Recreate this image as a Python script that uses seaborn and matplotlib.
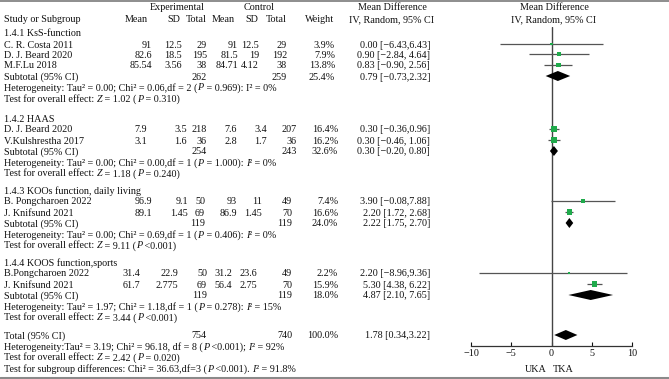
import matplotlib
matplotlib.use("Agg")
import matplotlib.pyplot as plt
import seaborn as sns
import pandas as pd

# ---- values ----
subgroups = ["1.4.1 KsS-function", "1.4.2 HAAS",
             "1.4.3 KOOs function, daily living", "1.4.4 KOOS function,sports"]

study = ["C. R. Costa 2011", "D. J. Beard 2020", "M.F.Lu 2018",
         "D. J. Beard 2020", "V.Kulshrestha 2017",
         "B. Pongcharoen 2022", "J. Knifsund 2021",
         "B.Pongcharoen 2022", "J. Knifsund 2021"]
study_group = [0, 0, 0, 1, 1, 2, 2, 3, 3]
exp_mean = ["91", "82.6", "85.54", "7.9", "3.1", "96.9", "89.1", "31.4", "61.7"]
exp_sd = ["12.5", "18.5", "3.56", "3.5", "1.6", "9.1", "1.45", "22.9", "2.775"]
exp_n = [29, 195, 38, 218, 36, 50, 69, 50, 69]
ctl_mean = ["91", "81.5", "84.71", "7.6", "2.8", "93", "86.9", "31.2", "56.4"]
ctl_sd = ["12.5", "19", "4.12", "3.4", "1.7", "11", "1.45", "23.6", "2.75"]
ctl_n = [29, 192, 38, 207, 36, 49, 70, 49, 70]
weight = [3.9, 7.9, 13.8, 16.4, 16.2, 7.4, 16.6, 2.2, 15.9]
md = [0.00, 0.90, 0.83, 0.30, 0.30, 3.90, 2.20, 2.20, 5.30]
ci_lo = [-6.43, -2.84, -0.90, -0.36, -0.46, -0.08, 1.72, -8.96, 4.38]
ci_hi = [6.43, 4.64, 2.56, 0.96, 1.06, 7.88, 2.68, 9.36, 6.22]

sub_exp_n = [262, 254, 119, 119]
sub_ctl_n = [259, 243, 119, 119]
sub_weight = [25.4, 32.6, 24.0, 18.0]
sub_md = [0.79, 0.30, 2.22, 4.87]
sub_lo = [-0.73, -0.20, 1.75, 2.10]
sub_hi = [2.32, 0.80, 2.70, 7.65]
# *X* marks an italic letter
sub_het = [
    "Heterogeneity: Tau² = 0.00; Chi² = 0.06,df = 2 (*P* = 0.969): I² = 0%",
    "Heterogeneity: Tau² = 0.00; Chi² = 0.00,df = 1 (*P* = 1.000): *I*² = 0%",
    "Heterogeneity: Tau² = 0.00; Chi² = 0.69,df = 1 (*P* = 0.406): *I*² = 0%",
    "Heterogeneity: Tau² = 1.97; Chi² = 1.18,df = 1 (*P* = 0.278): *I*² = 15%",
]
sub_test = [
    "Test for overall effect: *Z* = 1.02 (*P* = 0.310)",
    "Test for overall effect: *Z* = 1.18 (*P* = 0.240)",
    "Test for overall effect: *Z* = 9.11 (*P* <0.001)",
    "Test for overall effect: *Z* = 3.44 (*P* <0.001)",
]

total_exp_n, total_ctl_n, total_weight = 754, 740, 100.0
total_md, total_lo, total_hi = 1.78, 0.34, 3.22
total_notes = [
    "Heterogeneity:Tau² = 3.19; Chi² = 96.18, df = 8 (*P* <0.001); *I*² = 92%",
    "Test for overall effect: *Z* = 2.42 (*P* = 0.020)",
    "Test for subgroup differences: Chi² = 36.63,df=3 (*P* <0.001). *I*² = 91.8%",
]

# separators inside the CI brackets, as printed
study_sep = [",", ", ", ", ", ",", ", ", ",", ", ", ",", ", "]
sub_sep = [",", ", ", ", ", ", "]

# ---- layout (pixel rows / columns of the original) ----
title_y = [33, 118, 190, 262]
study_y = [44, 54, 65, 129, 140, 201, 212, 273, 284]
sub_y = [76, 151, 223, 295]
het_y = [87, 162, 234, 306]
test_y = [98, 173, 245, 317]
total_y = 335
notes_y = [346, 357, 368]
cols = [[152, 182, 207, 238, 259, 287, 335],
        [147, 187, 207, 237, 267, 297, 338],
        [152, 188, 205, 237, 262, 292, 338],
        [140, 178, 207, 232, 257, 292, 338]]
ci_x = 430
W, H = 669, 379
FS = 7.3
green = "#1faa4b"
ink = "#111111"

sns.set_theme(style="white")
plt.rcParams["font.family"] = ["Liberation Serif", "DejaVu Serif"]


def ci_text(m, lo, hi, sep):
    s = f"{m:.2f} [{lo:.2f}{sep}{hi:.2f}]"
    return s.replace("-", "\u2212")


fig = plt.figure(figsize=(W / 100, H / 100), dpi=100)
bg = fig.add_axes([0, 0, 1, 1])
bg.set_xlim(0, W)
bg.set_ylim(H, 0)
bg.axis("off")
renderer = fig.canvas.get_renderer()


def put(x, y, s, ha="left"):
    return bg.text(x, y, s, ha=ha, va="center_baseline", fontsize=FS, color=ink)


def put_rich(x, y, s):
    # plain and italic pieces laid end to end
    parts = s.split("*")
    for k, piece in enumerate(parts):
        if not piece:
            continue
        t = bg.text(x, y, piece, ha="left", va="center_baseline", fontsize=FS,
                    color=ink, fontstyle="italic" if k % 2 else "normal")
        ext = t.get_window_extent(renderer)
        x = bg.transData.inverted().transform((ext.x1, ext.y0))[0]


# headers
put(177, 7, "Experimental", "center")
put(259, 7, "Control", "center")
put(4, 19, "Study or Subgroup")
for x, s in zip([148, 180, 207, 235, 258, 287, 334],
                ["Mean", "SD", "Total", "Mean", "SD", "Total", "Weight"]):
    put(x, 19, s, "right")
for cx in (392, 554):
    put(cx, 7, "Mean Difference", "center")
    put(cx, 19, "IV, Random, 95% CI", "center")

# study rows
for i in range(len(study)):
    c = cols[study_group[i]]
    y = study_y[i]
    put(4, y, study[i])
    vals = [exp_mean[i], exp_sd[i], exp_n[i], ctl_mean[i], ctl_sd[i], ctl_n[i],
            f"{weight[i]:.1f}%"]
    for x, v in zip(c, vals):
        put(x, y, str(v), "right")
    put(ci_x, y, ci_text(md[i], ci_lo[i], ci_hi[i], study_sep[i]), "right")

# subgroup blocks
for g in range(len(subgroups)):
    c = cols[g]
    put(4, title_y[g], subgroups[g])
    put(4, sub_y[g], "Subtotal (95% CI)")
    put(c[2], sub_y[g], str(sub_exp_n[g]), "right")
    put(c[5], sub_y[g], str(sub_ctl_n[g]), "right")
    put(c[6], sub_y[g], f"{sub_weight[g]:.1f}%", "right")
    put(ci_x, sub_y[g], ci_text(sub_md[g], sub_lo[g], sub_hi[g], sub_sep[g]), "right")
    put_rich(4, het_y[g], sub_het[g])
    put_rich(4, test_y[g], sub_test[g])

# overall
put(4, total_y, "Total (95% CI)")
put(207, total_y, str(total_exp_n), "right")
put(292, total_y, str(total_ctl_n), "right")
put(338, total_y, f"{total_weight:.1f}%", "right")
put(ci_x, total_y, ci_text(total_md, total_lo, total_hi, ","), "right")
for y, s in zip(notes_y, total_notes):
    put_rich(4, y, s)

put(547, 369, "UKA", "right")
put(553, 369, "TKA", "left")

# frame lines
bg.axhline(1, color="#7a7a7a", lw=1.2)
bg.axhline(377.5, color="#8a8a8a", lw=2.2)

# ---- forest panel ----
ax_top, ax_bot = 27, 346
ax = fig.add_axes([471 / W, (H - ax_bot) / H, 161 / W, (ax_bot - ax_top) / H])
ax.patch.set_alpha(0)
ax.axvline(0, color="#444444", lw=1.0, zorder=1)
ax.hlines(study_y, ci_lo, ci_hi, color="#555555", lw=0.9, zorder=2)

df = pd.DataFrame({"md": md, "y": study_y, "weight": weight})
sns.scatterplot(data=df, x="md", y="y", size="weight", sizes=(3, 15),
                marker="s", color=green, edgecolor="none", linewidth=0,
                legend=False, ax=ax, zorder=3)

half_h = 5
for m, lo, hi, y in zip(sub_md + [total_md], sub_lo + [total_lo],
                        sub_hi + [total_hi], sub_y + [total_y]):
    ax.fill([lo, m, hi, m], [y, y - half_h, y, y + half_h], color="black",
            lw=0, zorder=4)

ax.set_xlim(-10, 10)
ax.set_ylim(ax_bot, ax_top)
ax.set_xlabel("")
ax.set_ylabel("")
ax.set_yticks([])
ax.set_xticks([-10, -5, 0, 5, 10])
ax.tick_params(axis="x", direction="in", length=3, width=0.8, labelsize=FS,
               pad=2, colors=ink, bottom=True)
for side in ("left", "right", "top"):
    ax.spines[side].set_visible(False)
ax.spines["bottom"].set_color("#333333")
ax.spines["bottom"].set_linewidth(0.9)

fig.savefig("out.png", dpi=100)
